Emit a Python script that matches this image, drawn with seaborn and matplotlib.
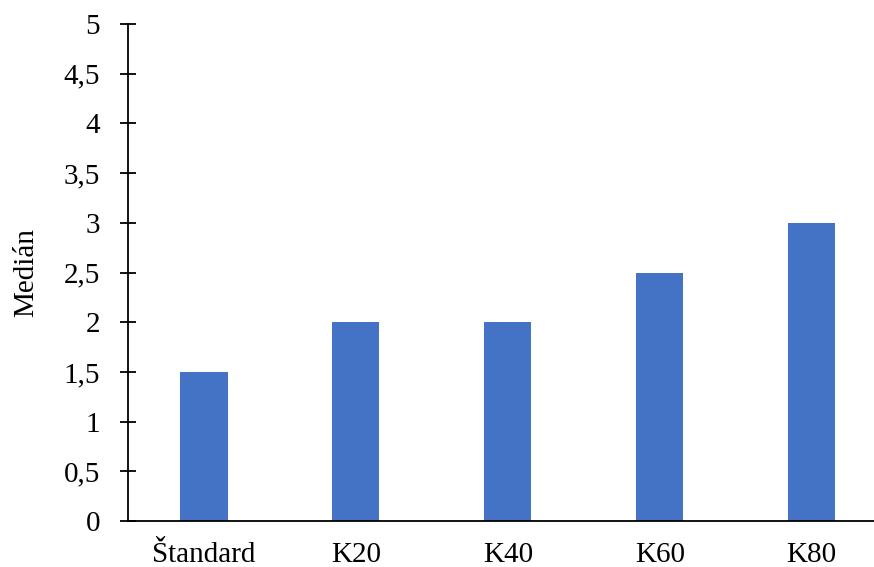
## bar chart of medians per variant
import matplotlib
matplotlib.use("Agg")
import matplotlib.pyplot as plt
import seaborn as sns
from pandas import DataFrame

categories = ["Štandard", "K20", "K40", "K60", "K80"]
medians = [1.5, 2, 2, 2.5, 3]
y_ticks = [0, 0.5, 1, 1.5, 2, 2.5, 3, 3.5, 4, 4.5, 5]
y_tick_labels = ["0", "0,5", "1", "1,5", "2", "2,5", "3", "3,5", "4", "4,5", "5"]

sns.set_style("white")
plt.rcParams['font.family'] = ['Liberation Serif', 'DejaVu Serif']
plt.rcParams['text.color'] = 'black'
plt.rcParams['axes.labelcolor'] = 'black'
plt.rcParams['xtick.color'] = 'black'
plt.rcParams['ytick.color'] = 'black'

my_dataframe = DataFrame({"Kategoria": categories, "Median": medians})

my_figure = plt.figure(figsize=(8.74, 5.67), dpi=100)
# axes placed in pixels: left 128, right 874, top 24, bottom 521
my_axes = my_figure.add_axes([128 / 874, (567 - 521) / 567, (874 - 128) / 874, (521 - 24) / 567])

sns.barplot(data=my_dataframe, x="Kategoria", y="Median", color="#4472C4",
            saturation=1, width=0.31, linewidth=0, ax=my_axes)

my_axes.set_xlim(-0.5, 4.41)
my_axes.set_ylim(0, 5)
my_axes.set_yticks(y_ticks)
my_axes.set_yticklabels(y_tick_labels)
my_axes.set_xlabel("")
my_axes.set_ylabel("Medián", fontsize=21, labelpad=18)

for side in ["top", "right"]:
    my_axes.spines[side].set_visible(False)
for side in ["left", "bottom"]:
    my_axes.spines[side].set_color("black")
    my_axes.spines[side].set_linewidth(1.3)

my_axes.tick_params(axis="y", direction="inout", length=12, width=1.3,
                    color="black", labelcolor="black", labelsize=21, pad=14, left=True)
my_axes.tick_params(axis="x", length=0, labelcolor="black", labelsize=21, pad=15)

my_figure.savefig("out.png", dpi=100)
